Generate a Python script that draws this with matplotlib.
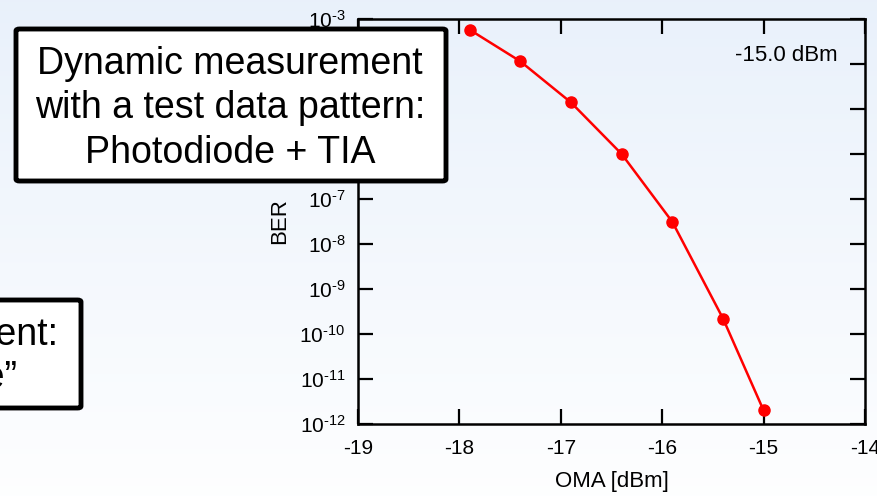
import numpy as np
import matplotlib
matplotlib.use("Agg")
import matplotlib.pyplot as plt
from matplotlib.patches import FancyBboxPatch
from matplotlib.ticker import FixedLocator, FuncFormatter

# ---- data ----
oma_dbm = [-17.9, -17.4, -16.9, -16.4, -15.9, -15.4, -15.0]
ber = [5.8e-4, 1.15e-4, 1.4e-5, 1.0e-6, 3.1e-8, 2.2e-10, 2.0e-12]
x_ticks = [-19, -18, -17, -16, -15, -14]
y_exponents = [-12, -11, -10, -9, -8, -7, -6, -5, -4, -3]
annotation = "-15.0 dBm"
box1_lines = ["Dynamic measurement", "with a test data pattern:", "Photodiode + TIA"]
box2_lines = ["Static measurement:", "\u201cPhotodiode\u201d"]

plt.rcParams['font.family'] = ['Liberation Sans', 'DejaVu Sans']
plt.rcParams['mathtext.fontset'] = 'custom'
plt.rcParams['mathtext.rm'] = 'Liberation Sans'
plt.rcParams['mathtext.it'] = 'Liberation Sans:italic'
plt.rcParams['mathtext.bf'] = 'Liberation Sans:bold'

W, H = 877, 496
fig = plt.figure(figsize=(W / 100, H / 100), dpi=100)

def fx(px):
    return px / W

def fy(py):
    return 1 - py / H

# background gradient
bg = fig.add_axes([0, 0, 1, 1], zorder=-10)
grad = np.linspace(0, 1, 256)[:, None]
top = np.array([0.914, 0.945, 0.984])
bot = np.array([0.995, 0.997, 1.0])
img = top[None, None, :] * (1 - grad[:, :, None]) + bot[None, None, :] * grad[:, :, None]
bg.imshow(img, aspect='auto', extent=[0, 1, 0, 1], origin='upper')
bg.axis('off')

ax = fig.add_axes([fx(358), fy(424), fx(865) - fx(358), fy(19) - fy(424)])
ax.set_facecolor('none')
ax.plot(oma_dbm, ber, color='#FF0000', lw=1.8, marker='o', ms=8, mec='#FF0000', mfc='#FF0000')
ax.set_yscale('log')
ax.set_xlim(-19, -14)
ax.set_ylim(1e-12, 1e-3)
ax.xaxis.set_major_locator(FixedLocator(x_ticks))
ax.yaxis.set_major_locator(FixedLocator([10.0 ** e for e in y_exponents]))
ax.yaxis.set_minor_locator(FixedLocator([]))
ax.xaxis.set_major_formatter(FuncFormatter(lambda v, p: f"{v:.0f}"))
ax.yaxis.set_major_formatter(
    FuncFormatter(lambda v, p: r"$10^{\text{%d}}$" % round(np.log10(v))))
for s in ax.spines.values():
    s.set_linewidth(1.8)
ax.tick_params(which='major', direction='in', length=11, width=1.6, top=True, right=True,
               labelsize=15, colors='black')
ax.tick_params(axis='x', pad=11)
ax.tick_params(axis='y', pad=9)
ax.set_xlabel("OMA [dBm]", fontsize=16, labelpad=9)
ax.set_ylabel("BER", fontsize=16, labelpad=7)
ax.text(fx(838), fy(61), annotation, transform=fig.transFigure, ha='right', va='baseline',
        fontsize=16)

# box 1
b1 = FancyBboxPatch((fx(16), fy(181)), fx(446) - fx(16), fy(29) - fy(181),
                    boxstyle='round,pad=0,rounding_size=0.004', transform=fig.transFigure,
                    facecolor='white', edgecolor='black', lw=3.5, zorder=5)
fig.add_artist(b1)
for line, base in zip(box1_lines, [74, 118, 163]):
    fig.text(fx(230), fy(base), line, ha='center', va='baseline', fontsize=27, zorder=6)

# box 2 (clipped at left edge)
b2 = FancyBboxPatch((fx(-20), fy(408)), fx(81) - fx(-20), fy(300) - fy(408),
                    boxstyle='round,pad=0,rounding_size=0.004', transform=fig.transFigure,
                    facecolor='white', edgecolor='black', lw=3.5, zorder=5)
fig.add_artist(b2)
fig.text(fx(58), fy(345), box2_lines[0], ha='right', va='baseline', fontsize=27, zorder=6)
fig.text(fx(18), fy(388), box2_lines[1], ha='right', va='baseline', fontsize=27, zorder=6)

fig.savefig("out.png", dpi=100)
